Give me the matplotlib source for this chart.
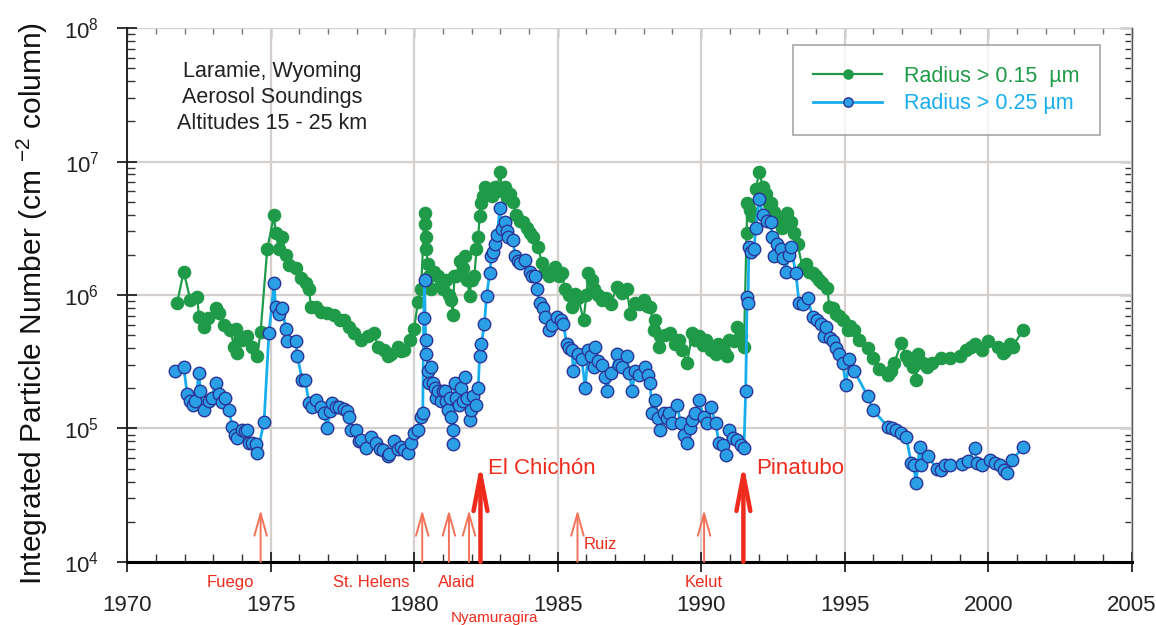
import numpy as np
import matplotlib
matplotlib.use("Agg")
import matplotlib.pyplot as plt
from matplotlib.ticker import MultipleLocator, LogLocator

plt.rcParams['font.family'] = ['Liberation Sans', 'DejaVu Sans']
plt.rcParams['mathtext.fontset'] = 'custom'
plt.rcParams['mathtext.rm'] = 'Liberation Sans'
plt.rcParams['mathtext.it'] = 'Liberation Sans:italic'
plt.rcParams['mathtext.bf'] = 'Liberation Sans:bold'

# --- data ---------------------------------------------------------------
# Radius > 0.15 um (green)
years_015 = [
    1971.74, 1971.97, 1972.20, 1972.44, 1972.50, 1972.67, 1972.83, 1973.08, 1973.20, 1973.36,
    1973.60, 1973.72, 1973.78, 1973.83, 1974.00, 1974.19, 1974.36, 1974.53, 1974.65, 1974.88,
    1975.12, 1975.17, 1975.29, 1975.41, 1975.52, 1975.64, 1975.87, 1976.05, 1976.22, 1976.34,
    1976.40, 1976.57, 1976.75, 1976.98, 1977.20, 1977.40, 1977.56, 1977.74, 1977.91, 1978.15,
    1978.38, 1978.60, 1978.73, 1978.96, 1979.08, 1979.20, 1979.43, 1979.55, 1979.66, 1979.84,
    1980.00, 1980.13, 1980.24, 1980.36, 1980.38, 1980.40, 1980.42, 1980.48, 1980.53, 1980.60,
    1980.70, 1980.83, 1980.94, 1981.00, 1981.10, 1981.20, 1981.29, 1981.35, 1981.40, 1981.47,
    1981.59, 1981.70, 1981.76, 1981.85, 1981.93, 1982.00, 1982.10, 1982.17, 1982.23, 1982.28,
    1982.34, 1982.40, 1982.46, 1982.55, 1982.63, 1982.72, 1982.80, 1982.90, 1982.98, 1983.08,
    1983.16, 1983.25, 1983.33, 1983.45, 1983.55, 1983.68, 1983.80, 1983.92, 1984.04, 1984.15,
    1984.33, 1984.44, 1984.55, 1984.68, 1984.80, 1984.91, 1985.03, 1985.14, 1985.26, 1985.38,
    1985.49, 1985.60, 1985.72, 1985.90, 1986.00, 1986.07, 1986.19, 1986.25, 1986.42, 1986.54,
    1986.70, 1986.85, 1987.06, 1987.24, 1987.41, 1987.53, 1987.70, 1987.85, 1987.99, 1988.10,
    1988.23, 1988.35, 1988.40, 1988.52, 1988.58, 1988.75, 1988.93, 1989.10, 1989.22, 1989.34,
    1989.51, 1989.69, 1989.80, 1989.92, 1990.05, 1990.15, 1990.33, 1990.50, 1990.60, 1990.68,
    1990.80, 1990.91, 1990.97, 1991.15, 1991.26, 1991.40, 1991.49, 1991.58, 1991.61, 1991.70,
    1991.78, 1991.90, 1992.02, 1992.15, 1992.25, 1992.35, 1992.42, 1992.52, 1992.60, 1992.72,
    1992.83, 1992.92, 1993.00, 1993.12, 1993.24, 1993.36, 1993.53, 1993.65, 1993.76, 1993.88,
    1993.99, 1994.10, 1994.22, 1994.40, 1994.46, 1994.58, 1994.69, 1994.80, 1994.93, 1995.10,
    1995.20, 1995.33, 1995.51, 1995.80, 1995.98, 1996.21, 1996.50, 1996.60, 1996.73, 1996.97,
    1997.14, 1997.25, 1997.38, 1997.49, 1997.55, 1997.72, 1997.85, 1998.05, 1998.37, 1998.66,
    1999.00, 1999.24, 1999.40, 1999.53, 1999.77, 2000.00, 2000.35, 2000.50, 2000.58, 2000.76,
    2000.85, 2001.22,
]
counts_015 = [
    8.7e5, 1.5e6, 9.2e5, 9.7e5, 6.9e5, 5.8e5, 6.7e5, 8.0e5, 7.3e5, 6.0e5,
    5.5e5, 4.1e5, 5.6e5, 3.7e5, 4.6e5, 4.9e5, 4.1e5, 3.5e5, 5.3e5, 2.2e6,
    4.0e6, 2.9e6, 2.2e6, 2.7e6, 2.0e6, 1.68e6, 1.6e6, 1.33e6, 1.23e6, 1.1e6,
    8.2e5, 8.1e5, 7.5e5, 7.3e5, 7.1e5, 6.5e5, 6.5e5, 5.8e5, 5.2e5, 4.6e5,
    4.9e5, 5.2e5, 4.1e5, 3.9e5, 3.5e5, 3.6e5, 4.1e5, 3.8e5, 3.9e5, 4.6e5,
    5.6e5, 8.9e5, 1.1e6, 4.1e6, 3.4e6, 2.7e6, 2.2e6, 1.7e6, 1.4e6, 1.1e6,
    1.5e6, 1.38e6, 1.2e6, 1.1e6, 1.3e6, 1.0e6, 9.2e5, 7.1e5, 1.4e6, 1.38e6,
    1.8e6, 1.6e6, 1.95e6, 1.3e6, 9.8e5, 1.3e6, 1.4e6, 2.2e6, 2.7e6, 3.9e6,
    4.9e6, 5.5e6, 6.5e6, 5.8e6, 6.0e6, 5.5e6, 6.5e6, 6.0e6, 8.4e6, 6.0e6,
    6.5e6, 5.3e6, 5.7e6, 5.0e6, 4.0e6, 3.6e6, 3.5e6, 3.2e6, 2.9e6, 2.7e6,
    2.3e6, 1.73e6, 1.5e6, 1.38e6, 1.5e6, 1.63e6, 1.4e6, 1.45e6, 1.1e6, 1.0e6,
    8.2e5, 1.02e6, 9.5e5, 6.5e5, 1.0e6, 1.45e6, 1.3e6, 1.1e6, 1.0e6, 9.2e5,
    9.5e5, 8.5e5, 1.15e6, 1.03e6, 1.1e6, 7.2e5, 8.7e5, 8.5e5, 9.2e5, 8.3e5,
    8.2e5, 5.5e5, 6.5e5, 4.1e5, 4.9e5, 5.0e5, 5.2e5, 4.3e5, 4.6e5, 3.9e5,
    3.1e5, 5.2e5, 4.6e5, 4.9e5, 4.2e5, 4.6e5, 3.9e5, 3.6e5, 4.3e5, 4.1e5,
    3.8e5, 3.5e5, 4.6e5, 4.5e5, 5.8e5, 5.0e5, 4.1e5, 2.9e6, 4.9e6, 4.3e6,
    3.9e6, 6.2e6, 8.3e6, 6.5e6, 5.7e6, 4.8e6, 4.9e6, 4.2e6, 3.9e6, 3.5e6,
    3.2e6, 3.6e6, 4.1e6, 3.5e6, 2.9e6, 2.4e6, 1.6e6, 1.7e6, 1.5e6, 1.45e6,
    1.38e6, 1.3e6, 1.23e6, 1.12e6, 8.2e5, 8.0e5, 7.2e5, 7.0e5, 6.5e5, 5.5e5,
    5.9e5, 5.5e5, 4.6e5, 4.0e5, 3.4e5, 2.8e5, 2.5e5, 2.7e5, 3.1e5, 4.4e5,
    3.5e5, 3.2e5, 2.9e5, 2.3e5, 3.6e5, 3.1e5, 2.9e5, 3.1e5, 3.4e5, 3.4e5,
    3.5e5, 3.9e5, 4.1e5, 4.3e5, 3.9e5, 4.5e5, 4.1e5, 3.7e5, 3.8e5, 4.3e5,
    4.1e5, 5.5e5,
]

# Radius > 0.25 um (blue)
years_025 = [
    1971.68, 1971.97, 1972.09, 1972.20, 1972.30, 1972.38, 1972.50, 1972.55, 1972.67, 1972.84,
    1972.95, 1973.08, 1973.20, 1973.31, 1973.40, 1973.55, 1973.66, 1973.75, 1973.83, 1974.00,
    1974.10, 1974.19, 1974.24, 1974.36, 1974.48, 1974.53, 1974.77, 1974.94, 1975.12, 1975.17,
    1975.29, 1975.41, 1975.52, 1975.58, 1975.87, 1975.93, 1976.10, 1976.20, 1976.34, 1976.45,
    1976.57, 1976.75, 1976.85, 1976.98, 1977.05, 1977.15, 1977.28, 1977.39, 1977.56, 1977.66,
    1977.74, 1977.80, 1977.97, 1978.08, 1978.15, 1978.32, 1978.50, 1978.67, 1978.80, 1978.90,
    1979.08, 1979.14, 1979.31, 1979.43, 1979.55, 1979.66, 1979.78, 1979.90, 1980.00, 1980.13,
    1980.24, 1980.30, 1980.33, 1980.36, 1980.40, 1980.42, 1980.48, 1980.53, 1980.60, 1980.65,
    1980.72, 1980.77, 1980.83, 1980.94, 1981.00, 1981.06, 1981.12, 1981.18, 1981.24, 1981.29,
    1981.35, 1981.37, 1981.41, 1981.47, 1981.55, 1981.64, 1981.70, 1981.76, 1981.84, 1981.93,
    1981.98, 1982.05, 1982.15, 1982.23, 1982.28, 1982.34, 1982.45, 1982.52, 1982.63, 1982.69,
    1982.75, 1982.81, 1982.90, 1982.98, 1983.05, 1983.16, 1983.22, 1983.27, 1983.45, 1983.51,
    1983.60, 1983.68, 1983.86, 1984.03, 1984.10, 1984.20, 1984.27, 1984.38, 1984.48, 1984.55,
    1984.68, 1984.80, 1984.97, 1985.10, 1985.20, 1985.31, 1985.40, 1985.49, 1985.55, 1985.70,
    1985.84, 1985.96, 1986.07, 1986.15, 1986.25, 1986.30, 1986.42, 1986.55, 1986.65, 1986.71,
    1986.85, 1987.06, 1987.15, 1987.24, 1987.41, 1987.50, 1987.59, 1987.70, 1987.85, 1988.05,
    1988.15, 1988.22, 1988.29, 1988.40, 1988.50, 1988.58, 1988.69, 1988.80, 1988.87, 1989.00,
    1989.16, 1989.28, 1989.40, 1989.51, 1989.60, 1989.69, 1989.80, 1989.92, 1990.09, 1990.20,
    1990.33, 1990.50, 1990.62, 1990.75, 1990.86, 1990.97, 1991.10, 1991.26, 1991.40, 1991.49,
    1991.55, 1991.60, 1991.63, 1991.66, 1991.75, 1991.84, 1991.90, 1992.02, 1992.15, 1992.30,
    1992.42, 1992.48, 1992.54, 1992.65, 1992.77, 1992.85, 1992.95, 1993.05, 1993.12, 1993.30,
    1993.41, 1993.55, 1993.71, 1993.88, 1994.05, 1994.17, 1994.29, 1994.35, 1994.50, 1994.58,
    1994.70, 1994.81, 1994.93, 1995.04, 1995.16, 1995.33, 1995.80, 1995.98, 1996.50, 1996.65,
    1996.80, 1996.95, 1997.14, 1997.32, 1997.40, 1997.49, 1997.61, 1997.67, 1997.90, 1998.20,
    1998.37, 1998.50, 1998.66, 1999.10, 1999.30, 1999.53, 1999.60, 1999.77, 2000.06, 2000.25,
    2000.41, 2000.55, 2000.64, 2000.82, 2001.22,
]
counts_025 = [
    2.7e5, 2.9e5, 1.8e5, 1.6e5, 1.5e5, 1.6e5, 2.6e5, 1.9e5, 1.38e5, 1.6e5,
    1.7e5, 2.2e5, 1.8e5, 1.58e5, 1.7e5, 1.38e5, 1.03e5, 9.0e4, 8.5e4, 9.7e4,
    9.5e4, 9.7e4, 7.8e4, 7.8e4, 7.6e4, 6.5e4, 1.12e5, 5.2e5, 1.23e6, 8.2e5,
    7.2e5, 8.0e5, 5.6e5, 4.5e5, 4.5e5, 3.5e5, 2.3e5, 2.3e5, 1.54e5, 1.45e5,
    1.63e5, 1.45e5, 1.3e5, 1.0e5, 1.34e5, 1.54e5, 1.45e5, 1.45e5, 1.4e5, 1.35e5,
    1.22e5, 9.7e4, 9.7e4, 8.0e4, 8.2e4, 7.1e4, 8.7e4, 7.8e4, 7.0e4, 6.9e4,
    6.2e4, 6.4e4, 8.0e4, 7.0e4, 7.3e4, 6.9e4, 6.5e4, 7.8e4, 9.2e4, 9.8e4,
    1.22e5, 1.3e5, 6.7e5, 1.3e6, 4.6e5, 3.6e5, 2.7e5, 2.2e5, 2.9e5, 2.2e5,
    2.0e5, 1.7e5, 1.9e5, 1.6e5, 1.9e5, 1.9e5, 1.6e5, 1.38e5, 1.7e5, 1.22e5,
    9.7e4, 7.6e4, 2.2e5, 1.7e5, 1.5e5, 2.0e5, 1.6e5, 2.45e5, 1.7e5, 1.15e5,
    1.38e5, 1.75e5, 1.5e5, 2.0e5, 3.5e5, 4.3e5, 6.1e5, 9.8e5, 1.45e6, 1.95e6,
    2.1e6, 2.4e6, 2.8e6, 4.5e6, 3.1e6, 3.5e6, 3.0e6, 2.7e6, 2.6e6, 1.95e6,
    1.8e6, 1.74e6, 1.83e6, 1.5e6, 1.4e6, 1.38e6, 1.1e6, 8.7e5, 8.0e5, 6.9e5,
    5.5e5, 6.0e5, 6.9e5, 6.5e5, 6.1e5, 4.3e5, 4.0e5, 3.9e5, 2.7e5, 3.6e5,
    3.3e5, 2.0e5, 3.9e5, 3.5e5, 2.9e5, 4.1e5, 3.2e5, 3.0e5, 2.45e5, 1.9e5,
    2.6e5, 3.6e5, 3.0e5, 2.9e5, 3.5e5, 2.6e5, 1.9e5, 2.7e5, 2.5e5, 2.9e5,
    2.5e5, 2.2e5, 1.3e5, 1.63e5, 1.2e5, 9.7e4, 1.3e5, 1.2e5, 1.3e5, 1.1e5,
    1.5e5, 1.1e5, 9.0e4, 7.8e4, 1.0e5, 1.15e5, 1.3e5, 1.63e5, 1.22e5, 1.1e5,
    1.45e5, 1.1e5, 7.8e4, 7.5e4, 6.3e4, 9.7e4, 8.5e4, 8.2e4, 7.5e4, 7.1e4,
    1.9e5, 9.7e5, 8.7e5, 2.3e6, 2.1e6, 2.2e6, 3.2e6, 5.2e6, 4.0e6, 3.6e6,
    3.5e6, 2.7e6, 1.95e6, 2.4e6, 2.2e6, 1.9e6, 1.5e6, 2.0e6, 2.3e6, 1.45e6,
    8.7e5, 8.5e5, 9.5e5, 6.9e5, 6.5e5, 6.1e5, 4.9e5, 5.8e5, 4.8e5, 4.5e5,
    4.0e5, 3.6e5, 3.1e5, 2.1e5, 3.3e5, 2.7e5, 1.75e5, 1.38e5, 1.03e5, 1.0e5,
    9.7e4, 9.3e4, 8.7e4, 5.5e4, 5.3e4, 3.9e4, 7.3e4, 5.3e4, 6.2e4, 5.0e4,
    4.9e4, 5.3e4, 5.3e4, 5.4e4, 5.7e4, 7.1e4, 5.5e4, 5.3e4, 5.8e4, 5.5e4,
    5.3e4, 4.9e4, 4.6e4, 5.8e4, 7.2e4,
]

# volcanic eruptions marked with arrows
minor_volcanoes = ["Fuego", "St. Helens", "Alaid", "Nyamuragira", "Ruiz", "Kelut"]
minor_years = [1974.65, 1980.28, 1981.21, 1981.91, 1985.69, 1990.10]
major_volcanoes = ["El Chichón", "Pinatubo"]
major_years = [1982.31, 1991.47]

GREEN = '#1f9a48'
BLUE_LINE = '#18aeee'
BLUE_FILL = '#2a9fe6'
BLUE_EDGE = '#2a3596'
RED = '#ee2b1c'
SALMON = '#f3735a'

fig = plt.figure(figsize=(11.56, 6.25), dpi=100)
ax = fig.add_axes([0.110, 0.101, 0.869, 0.854])

ax.plot(years_015, counts_015, '-o', color=GREEN, lw=1.6, ms=9,
        mfc=GREEN, mec=GREEN, mew=0.8, label='Radius > 0.15  µm', zorder=3)
ax.plot(years_025, counts_025, '-o', color=BLUE_LINE, lw=2.0, ms=9,
        mfc=BLUE_FILL, mec=BLUE_EDGE, mew=1.0, label='Radius > 0.25 µm', zorder=4)

ax.set_yscale('log')
ax.set_xlim(1970, 2005)
ax.set_ylim(1e4, 1e8)
ax.xaxis.set_major_locator(MultipleLocator(5))
ax.xaxis.set_minor_locator(MultipleLocator(1))
ax.yaxis.set_major_locator(LogLocator(base=10, numticks=10))
ax.yaxis.set_minor_locator(LogLocator(base=10, subs=np.arange(2, 10), numticks=20))

ax.grid(True, which='major', color='#d5d0cd', lw=1.6, zorder=0)
ax.set_axisbelow(True)

ax.tick_params(which='major', direction='inout', length=14, width=1.3,
               labelsize=16, colors='#222222')
ax.tick_params(which='minor', direction='in', length=6, width=1.0, colors='#333333')
ax.tick_params(axis='x', which='major', pad=17)
ax.tick_params(axis='y', which='major', pad=13)

ax.spines['top'].set_visible(False)
ax.spines['bottom'].set_linewidth(2.2)
ax.spines['left'].set_linewidth(1.4)
ax.spines['left'].set_color('#222222')
ax.spines['right'].set_linewidth(1.0)
ax.spines['right'].set_color('#555555')

# inward ticks on the top and right edges
top = ax.secondary_xaxis('top')
top.xaxis.set_major_locator(MultipleLocator(5))
top.xaxis.set_minor_locator(MultipleLocator(1))
top.tick_params(which='major', direction='in', length=7, width=1.0, labeltop=False, colors='#555555')
top.tick_params(which='minor', direction='in', length=4, width=1.0, colors='#777777')
top.spines['top'].set_visible(False)

right = ax.secondary_yaxis('right')
right.tick_params(which='major', direction='in', length=9, width=1.0, labelright=False, colors='#333333')
right.tick_params(which='minor', direction='in', length=5, width=1.0, colors='#333333')
right.spines['right'].set_visible(False)

ax.set_ylabel(r'Integrated Particle Number (cm $^{-2}$ column)', fontsize=21.5, color='#111111')
ax.yaxis.set_label_coords(-0.077, 0.485)

ax.text(0.144, 0.87, 'Laramie, Wyoming\nAerosol Soundings\nAltitudes 15 - 25 km',
        transform=ax.transAxes, ha='center', va='center', fontsize=15.5,
        linespacing=1.3, color='#222222')

leg = ax.legend(loc='upper right', bbox_to_anchor=(0.968, 0.968), fontsize=15.5,
                frameon=True, fancybox=False, edgecolor='#999999', markerscale=0.75,
                handlelength=3.2, handletextpad=1.0, borderpad=0.95, labelspacing=0.3,
                borderaxespad=0)
leg.get_frame().set_linewidth(1.3)
for txt, c in zip(leg.get_texts(), [GREEN, BLUE_LINE]):
    txt.set_color(c)

# eruption arrows
for yr in minor_years:
    ax.annotate('', xy=(yr, 2.45e4), xytext=(yr, 1e4),
                arrowprops=dict(arrowstyle='->,head_length=16,head_width=4.5',
                                mutation_scale=1, color=SALMON, lw=1.4,
                                shrinkA=0, shrinkB=0), annotation_clip=False, zorder=5)
for yr in major_years:
    ax.annotate('', xy=(yr, 5.5e4), xytext=(yr, 1e4),
                arrowprops=dict(arrowstyle='->,head_length=26,head_width=5',
                                mutation_scale=1, color=RED, lw=3.2,
                                shrinkA=0, shrinkB=0), annotation_clip=False, zorder=5)

xt = ax.get_xaxis_transform()
ax.text(1973.6, -0.039, minor_volcanoes[0], transform=xt, ha='center', va='center', fontsize=12, color=RED)
ax.text(1978.5, -0.039, minor_volcanoes[1], transform=xt, ha='center', va='center', fontsize=12, color=RED)
ax.text(1981.48, -0.039, minor_volcanoes[2], transform=xt, ha='center', va='center', fontsize=12, color=RED)
ax.text(1981.27, -0.092, minor_volcanoes[3], transform=xt, ha='left', va='top', fontsize=11, color=RED)
ax.text(1985.9, 1.35e4, minor_volcanoes[4], ha='left', va='center', fontsize=12, color=RED)
ax.text(1990.1, -0.039, minor_volcanoes[5], transform=xt, ha='center', va='center', fontsize=12, color=RED)
ax.text(1982.56, 5.0e4, major_volcanoes[0], ha='left', va='center', fontsize=16, color=RED)
ax.text(1991.9, 5.0e4, major_volcanoes[1], ha='left', va='center', fontsize=16, color=RED)

fig.savefig('out.png', dpi=100)
